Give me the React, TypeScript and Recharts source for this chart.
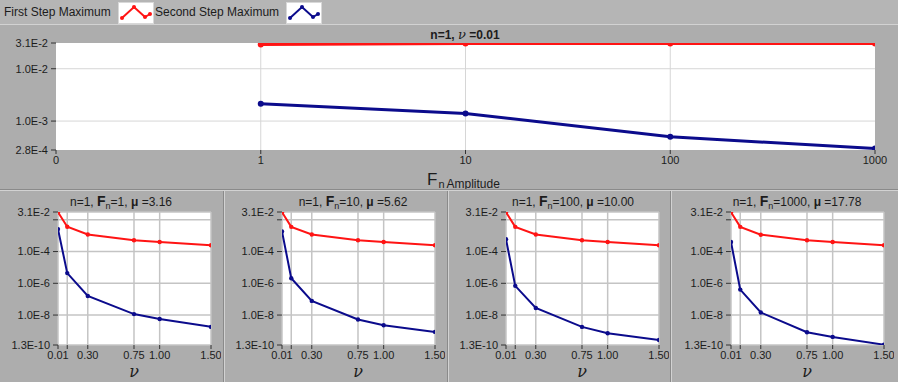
import { LineChart, Line, XAxis, YAxis, CartesianGrid } from "recharts";

const BG = "#adadad";
const RED = "#ff1414";
const BLUE = "#0b0b8c";
const GRID = "#d6d6d6";
const INK = "#1c1c1c";

// top chart: amplitude sweep at nu = 0.01
const amplitudes = [1, 10, 100, 1000];
const ampFirstMax = [0.029, 0.0303, 0.0303, 0.0303];
const ampSecondMax = [2.14e-3, 1.4e-3, 5.0e-4, 3.0e-4];
const ampTicks = [0.1, 1, 10, 100, 1000];
const ampTickLabels = ["0", "1", "10", "100", "1000"];
const topYTicks = [0.031, 0.01, 0.001, 0.00028];
const topYLabels = ["3.1E-2", "1.0E-2", "1.0E-3", "2.8E-4"];

// bottom panels: nu sweep, one panel per Fn
const nuValues = [0.01, 0.1, 0.3, 0.75, 1.0, 1.5];
const nuTickLabels = ["0.01", "", "0.30", "0.75", "1.00", "1.50"];
const panelFn = ["1", "10", "100", "1000"];
const panelMu = ["3.16", "5.62", "10.00", "17.78"];
const firstMaxByPanel = [
  [0.03, 3.66e-3, 1.19e-3, 5.2e-4, 4.0e-4, 2.5e-4],
  [0.03, 3.6e-3, 1.18e-3, 5.2e-4, 4.0e-4, 2.5e-4],
  [0.03, 3.6e-3, 1.18e-3, 5.2e-4, 4.0e-4, 2.5e-4],
  [0.03, 3.6e-3, 1.15e-3, 5.2e-4, 4.0e-4, 2.5e-4],
];
const secondMaxByPanel = [
  [2.6e-3, 4.4e-6, 1.6e-7, 1.15e-8, 5.6e-9, 1.8e-9],
  [1.85e-3, 2.1e-6, 7.8e-8, 5.3e-9, 2.3e-9, 8.7e-10],
  [6.0e-4, 6.9e-7, 2.8e-8, 1.8e-9, 7.2e-10, 2.7e-10],
  [4.0e-4, 4.0e-7, 1.46e-8, 8.3e-10, 4.2e-10, 1.36e-10],
];
const botYTicks = [0.031, 0.01, 1e-4, 1e-6, 1e-8, 1.3e-10];
const botYLabels = ["3.1E-2", "", "1.0E-4", "1.0E-6", "1.0E-8", "1.3E-10"];

const plotLefts = [58, 282, 506, 731];
const titleCenters = [121, 353, 573, 797];

const tickStyle = { fontSize: 11, fill: INK };

// label lookup by value, so hidden/reordered ticks can't shift the text
const labelFor = (ticks: number[], labels: string[]) => (v: number) => {
  let best = 0;
  ticks.forEach((t, i) => {
    if (Math.abs(Math.log(t) - Math.log(v)) < Math.abs(Math.log(ticks[best]) - Math.log(v))) best = i;
  });
  return labels[best];
};

function LegendSample({ color }: { color: string }) {
  const pts = [
    [3, 15],
    [15, 4],
    [26, 14],
    [31, 11],
  ];
  return (
    <svg width={34} height={20} style={{ background: "#fff", border: "1px solid #d8d8d8", display: "block" }}>
      <polyline points={pts.map((p) => p.join(",")).join(" ")} fill="none" stroke={color} strokeWidth={2} />
      {pts.map((p, i) => (
        <circle key={i} cx={p[0]} cy={p[1]} r={2} fill={color} />
      ))}
    </svg>
  );
}

function TopChart() {
  const data = amplitudes.map((a, i) => ({ a, first: ampFirstMax[i], second: ampSecondMax[i] }));
  return (
    <LineChart width={898} height={166} data={data} margin={{ top: 19, right: 23, bottom: 10, left: 0 }}>
      <CartesianGrid fill="#fff" stroke={GRID} horizontalValues={[0.01, 0.001]} verticalValues={[1, 10, 100]} />
      <XAxis
        dataKey="a"
        type="number"
        scale="log"
        domain={[0.1, 1000]}
        ticks={ampTicks}
        interval={0}
        allowDataOverflow
        axisLine={false}
        tickSize={4}
        tickLine={{ stroke: "#333" }}
        tickMargin={2}
        height={30}
        tick={tickStyle}
        tickFormatter={labelFor(ampTicks, ampTickLabels)}
      />
      <YAxis
        type="number"
        scale="log"
        domain={[0.00028, 0.031]}
        ticks={topYTicks}
        interval={0}
        allowDataOverflow
        axisLine={false}
        tickSize={5}
        tickLine={{ stroke: "#333" }}
        tickMargin={3}
        width={56}
        tick={tickStyle}
        tickFormatter={labelFor(topYTicks, topYLabels)}
      />
      <Line dataKey="first" stroke={RED} strokeWidth={3} dot={{ r: 3, fill: RED, strokeWidth: 0 }} isAnimationActive={false} />
      <Line dataKey="second" stroke={BLUE} strokeWidth={3} dot={{ r: 3, fill: BLUE, strokeWidth: 0 }} isAnimationActive={false} />
    </LineChart>
  );
}

function NuPanel({ idx }: { idx: number }) {
  const data = nuValues.map((nu, i) => ({ nu, first: firstMaxByPanel[idx][i], second: secondMaxByPanel[idx][i] }));
  return (
    <LineChart width={221} height={191} data={data} margin={{ top: 21, right: 10, bottom: 15, left: 0 }}>
      <CartesianGrid fill="#fff" stroke="#c4c4c4" strokeWidth={1.5} horizontalValues={botYTicks} verticalValues={nuValues} />
      <XAxis
        dataKey="nu"
        type="number"
        domain={[0.01, 1.5]}
        ticks={nuValues}
        interval={0}
        allowDataOverflow
        axisLine={false}
        tickSize={4}
        tickLine={{ stroke: "#333" }}
        tickMargin={2}
        height={22}
        tick={tickStyle}
        tickFormatter={labelFor(nuValues, nuTickLabels)}
      />
      <YAxis
        type="number"
        scale="log"
        domain={[1.3e-10, 0.031]}
        ticks={botYTicks}
        interval={0}
        allowDataOverflow
        axisLine={false}
        tickSize={5}
        tickLine={{ stroke: "#333" }}
        tickMargin={3}
        width={58}
        tick={tickStyle}
        tickFormatter={labelFor(botYTicks, botYLabels)}
      />
      <Line dataKey="first" stroke={RED} strokeWidth={2} dot={{ r: 2.2, fill: RED, strokeWidth: 0 }} isAnimationActive={false} />
      <Line dataKey="second" stroke={BLUE} strokeWidth={2} dot={{ r: 2.2, fill: BLUE, strokeWidth: 0 }} isAnimationActive={false} />
    </LineChart>
  );
}

const abs = (left: number, top: number, extra: React.CSSProperties = {}): React.CSSProperties => ({
  position: "absolute",
  left,
  top,
  ...extra,
});

export default function App() {
  return (
    <div
      style={{
        position: "absolute",
        left: 0,
        top: 0,
        width: 898,
        height: 382,
        overflow: "hidden",
        background: BG,
        fontFamily: "'Liberation Sans', Arial, sans-serif",
        color: INK,
      }}
    >
      {/* legend strip */}
      <div style={abs(0, 0, { width: 898, height: 24, background: "#b5b5b5", borderBottom: "1px solid #d2d2d2" })} />
      <div style={abs(4, 5, { fontSize: 12 })}>First Step Maximum</div>
      <div style={abs(118, 2)}>
        <LegendSample color={RED} />
      </div>
      <div style={abs(155, 5, { fontSize: 12 })}>Second Step Maximum</div>
      <div style={abs(286, 2)}>
        <LegendSample color={BLUE} />
      </div>

      {/* top chart */}
      <div style={abs(0, 24)}>
        <TopChart />
      </div>
      <div style={abs(465, 27, { transform: "translateX(-50%)", fontSize: 12, fontWeight: "bold", whiteSpace: "nowrap" })}>
        n=1, <span style={{ fontFamily: "'DejaVu Serif', serif", fontStyle: "italic", fontWeight: "normal", fontSize: 13 }}>ν</span> =0.01
      </div>
      <div style={abs(427, 170, { whiteSpace: "nowrap" })}>
        <span style={{ fontSize: 17 }}>F</span>
        <span style={{ fontSize: 11, position: "relative", top: 3, marginLeft: 1, marginRight: 2 }}>n</span>
        <span style={{ fontSize: 12, position: "relative", top: 3 }}>Amplitude</span>
      </div>

      {/* separators */}
      <div style={abs(0, 189, { width: 898, height: 1, background: "#8a8a8a" })} />
      <div style={abs(0, 190, { width: 898, height: 1, background: "#d2d2d2" })} />
      {[223, 447, 670].map((x) => (
        <div key={x}>
          <div style={abs(x, 191, { width: 1, height: 191, background: "#8a8a8a" })} />
          <div style={abs(x + 1, 191, { width: 1, height: 191, background: "#d2d2d2" })} />
        </div>
      ))}

      {/* bottom panels */}
      {plotLefts.map((pl, i) => (
        <div key={i}>
          <div style={abs(pl - 58, 191)}>
            <NuPanel idx={i} />
          </div>
          <div style={abs(titleCenters[i], 193, { transform: "translateX(-50%)", fontSize: 12, whiteSpace: "nowrap" })}>
            n=1, <b style={{ fontSize: 14 }}>F</b>
            <span style={{ fontSize: 9, position: "relative", top: 3 }}>n</span>={panelFn[i]}, <b>μ</b> ={panelMu[i]}
          </div>
          <div
            style={abs(pl + 76, 362, {
              transform: "translateX(-50%)",
              fontSize: 16,
              fontFamily: "'DejaVu Serif', serif",
              fontStyle: "italic",
            })}
          >
            ν
          </div>
        </div>
      ))}
    </div>
  );
}
